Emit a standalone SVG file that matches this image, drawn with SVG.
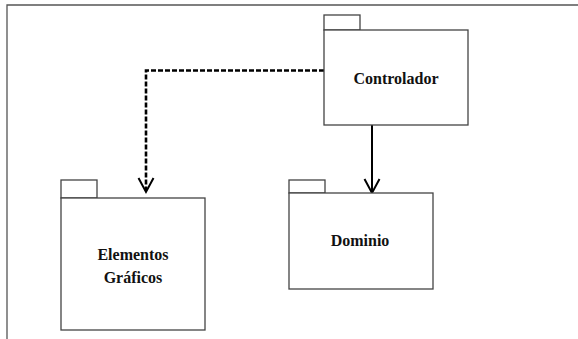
<svg xmlns="http://www.w3.org/2000/svg" width="578" height="339" viewBox="0 0 578 339">
<style>
.box{fill:#fff;stroke:#444;stroke-width:1.3}
.lbl{font-family:"Liberation Serif",serif;font-weight:bold;font-size:16px;fill:#111;text-anchor:middle}
.dep{fill:none;stroke:#000;stroke-width:2.6;stroke-dasharray:5,2}
.sol{fill:none;stroke:#000;stroke-width:2}
.head{fill:none;stroke:#000;stroke-width:2}
</style>
<rect width="578" height="339" fill="#fff"/>
<path d="M7,339 V5 H578" fill="none" stroke="#555" stroke-width="1.3"/>
<g id="connectors">
<path class="dep" d="M324,70.5 H146 V190"/>
<path class="head" d="M138.5,178 L146,192 L153.5,178"/>
<path class="sol" d="M372,125 V191"/>
<path class="head" d="M364.5,179 L372,193 L379.5,179"/>
</g>
<g id="controlador">
<rect class="box" x="324" y="15" width="36" height="15"/>
<rect class="box" x="324" y="30" width="144" height="95"/>
<text class="lbl" x="396" y="84">Controlador</text>
</g>
<g id="elementos">
<rect class="box" x="61" y="180" width="36" height="18"/>
<rect class="box" x="61" y="198" width="144" height="132"/>
<text class="lbl" x="133" y="260">Elementos</text>
<text class="lbl" x="133" y="283">Gráficos</text>
</g>
<g id="dominio">
<rect class="box" x="289" y="180" width="36" height="13"/>
<rect class="box" x="289" y="193" width="144" height="96"/>
<text class="lbl" x="360" y="246">Dominio</text>
</g>
</svg>
